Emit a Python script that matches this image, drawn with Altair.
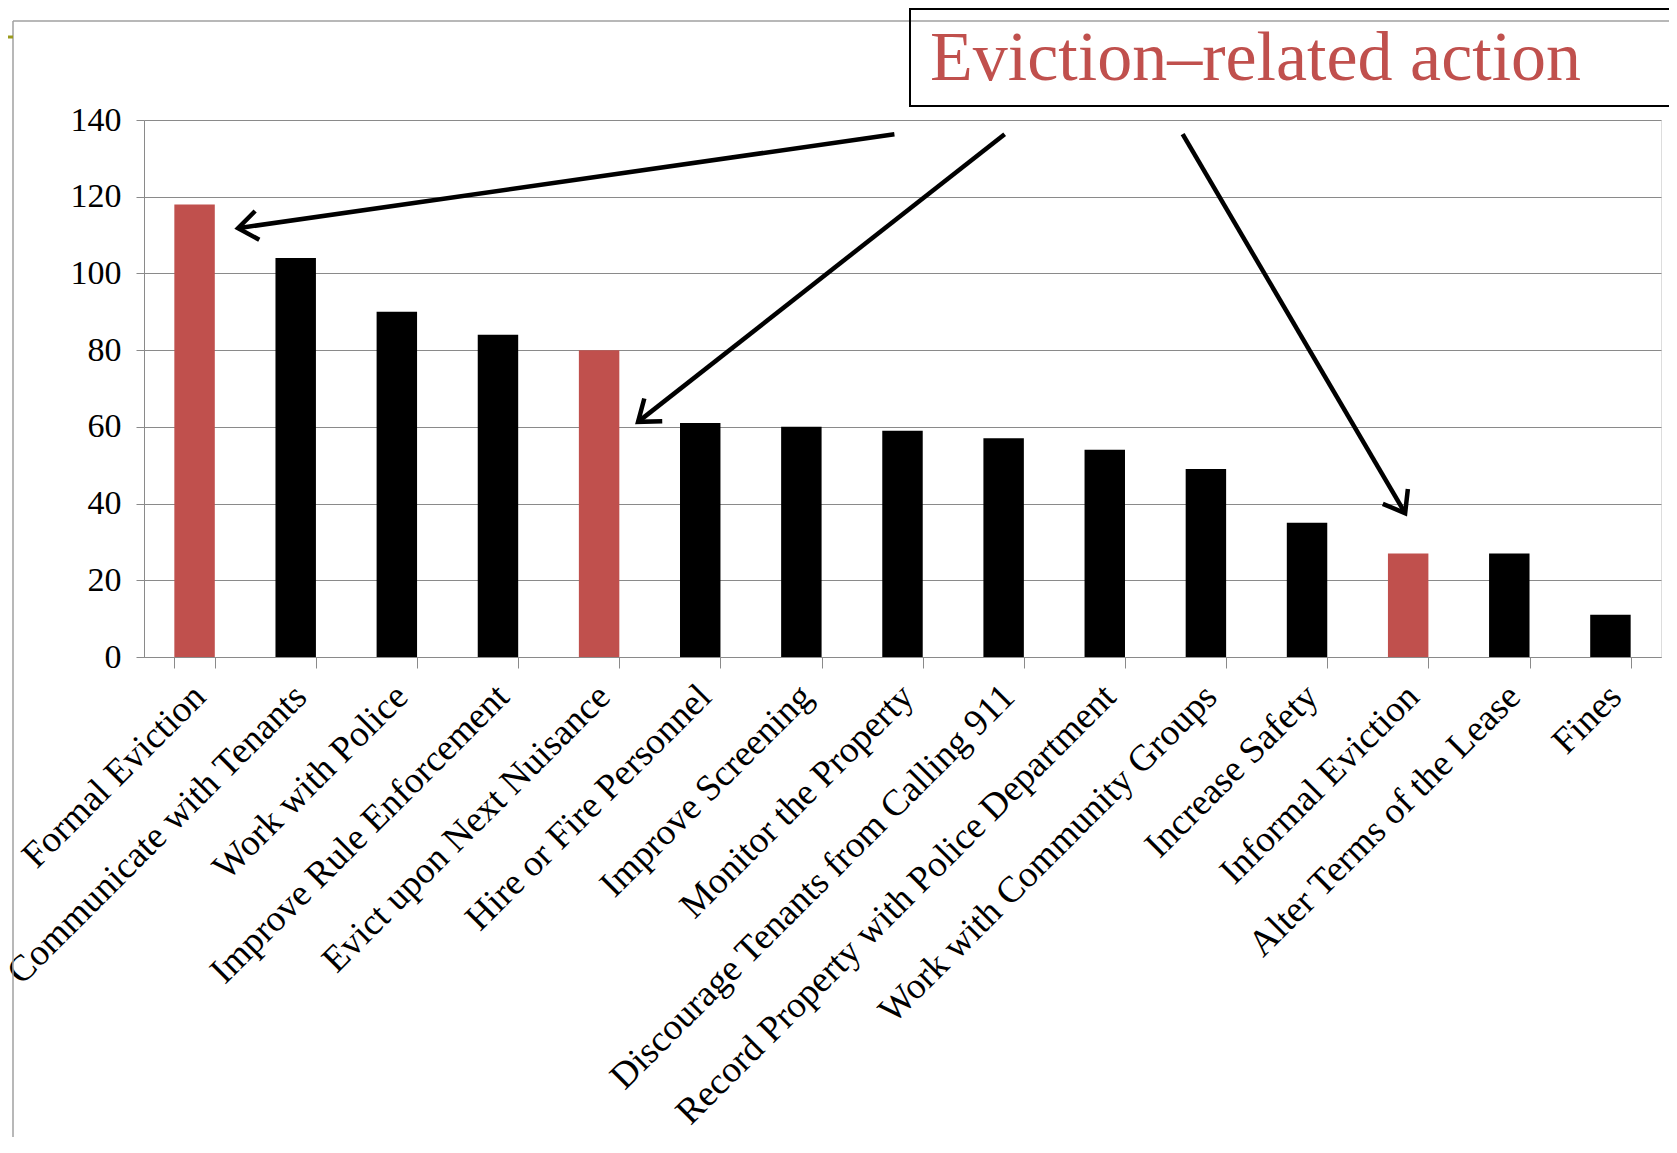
import altair as alt
import pandas as pd

categories = [
    "Formal Eviction", "Communicate with Tenants", "Work with Police",
    "Improve Rule Enforcement", "Evict upon Next Nuisance", "Hire or Fire Personnel",
    "Improve Screening", "Monitor the Property", "Discourage Tenants from Calling 911",
    "Record Property with Police Department", "Work with Community Groups",
    "Increase Safety", "Informal Eviction", "Alter Terms of the Lease", "Fines",
]
values = [118, 104, 90, 84, 80, 61, 60, 59, 57, 54, 49, 35, 27, 27, 11]
eviction_related = ["Formal Eviction", "Evict upon Next Nuisance", "Informal Eviction"]

# annotation arrows (category-index units on x, value units on y)
arrow_x0 = [7.42, 8.51, 10.27]
arrow_y0 = [136.3, 136.3, 136.3]
arrow_x1 = [0.93, 4.885, 12.47]
arrow_y1 = [111.8, 61.3, 37.5]
arrow_angle = [171.8, 141.9, 59.6]

title_text = "Eviction\u2013related action"

RED = "#C0504D"
GRAY = "#8a8a8a"
FONT = "Liberation Serif"
W, H = 1517, 537

bars_df = pd.DataFrame({
    "cat": categories,
    "val": values,
    "kind": ["evict" if c in eviction_related else "other" for c in categories],
})
arrows_df = pd.DataFrame({"x0": arrow_x0, "y0": arrow_y0, "x1": arrow_x1,
                          "y1": arrow_y1, "ang": arrow_angle})
one = pd.DataFrame({"t": [title_text]})

bars = alt.Chart(bars_df).mark_bar().encode(
    x=alt.X("cat:N", sort=None,
            scale=alt.Scale(paddingInner=0.6, paddingOuter=0.3),
            axis=alt.Axis(title=None, labelAngle=-45, labelFont=FONT, labelFontSize=37,
                          labelColor="black", labelLimit=2000, labelPadding=10,
                          labelOffset=-8,
                          domainColor=GRAY, tickColor=GRAY, tickSize=11,
                          tickBand="extent", grid=False)),
    y=alt.Y("val:Q", scale=alt.Scale(domain=[0, 140], nice=False),
            axis=alt.Axis(title=None, values=list(range(0, 141, 20)), grid=True,
                          gridColor=GRAY, gridWidth=1.2, domainColor=GRAY,
                          tickColor=GRAY, tickSize=8, labelFont=FONT,
                          labelFontSize=34, labelColor="black", labelPadding=15)),
    color=alt.Color("kind:N", scale=alt.Scale(domain=["evict", "other"],
                                              range=[RED, "#000000"]), legend=None),
)

xq = alt.Scale(domain=[0, 15], nice=False, zero=False)
yq = alt.Scale(domain=[0, 140], nice=False)

shafts = alt.Chart(arrows_df).mark_rule(color="black", strokeWidth=4.5).encode(
    x=alt.X("x0:Q", scale=xq, axis=None),
    x2="x1:Q",
    y=alt.Y("y0:Q", scale=yq, axis=None),
    y2="y1:Q",
)

heads = alt.Chart(arrows_df).mark_point(
    shape="M-1,-0.75L0,0L-1,0.75", filled=False, color="black", strokeWidth=4.5,
    size=1500, opacity=1, strokeJoin="miter",
).encode(
    x=alt.X("x1:Q", scale=xq, axis=None),
    y=alt.Y("y1:Q", scale=yq, axis=None),
    angle=alt.Angle("ang:Q", scale=None),
)

frame_top = alt.Chart(one).mark_rule(color="#a0a0a0", strokeWidth=1.5).encode(
    x=alt.value(-131), x2=alt.value(W + 20), y=alt.value(-99))
frame_left = alt.Chart(one).mark_rule(color="#a0a0a0", strokeWidth=1.5).encode(
    x=alt.value(-131), y=alt.value(-99), y2=alt.value(H + 480))
olive = alt.Chart(one).mark_rule(color="#9a9a1c", strokeWidth=3).encode(
    x=alt.value(-140), x2=alt.value(-131), y=alt.value(-83))

box = alt.Chart(one).mark_rect(fill=None, stroke="black", strokeWidth=2).encode(
    x=alt.value(766), x2=alt.value(W + 40), y=alt.value(-111), y2=alt.value(-14))
title = alt.Chart(one).mark_text(
    align="left", baseline="alphabetic", font=FONT, fontSize=70, color=RED,
).encode(x=alt.value(786), y=alt.value(-40), text="t:N")

chart = alt.layer(
    frame_top, frame_left, olive, bars, shafts, heads, box, title
).resolve_scale(x="independent", y="independent").properties(
    width=W, height=H,
    autosize=alt.AutoSizeParams(type="none"),
    padding={"left": 136, "top": 112, "right": 8, "bottom": 480},
).configure_view(stroke=None).configure(background="white")

chart.save("out.html", embed_options={"renderer": "svg", "actions": False})
